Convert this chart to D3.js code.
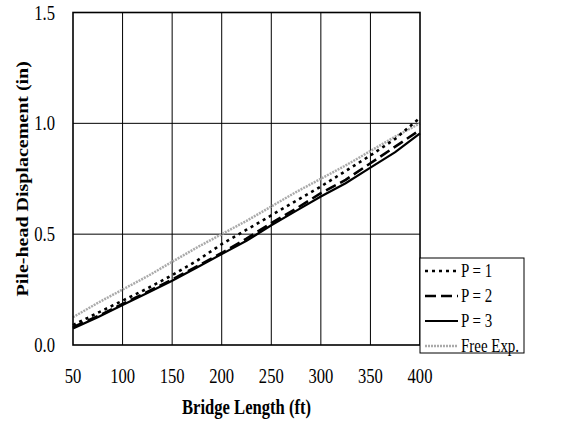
<!DOCTYPE html>
<html>
<head>
<meta charset="utf-8">
<script src="https://cdn.jsdelivr.net/npm/d3@7"></script>
<style>
  body { margin: 0; background: #fff; }
  svg { display: block; }
</style>
</head>
<body>
<script>
// bridge length (ft)
const lengths = [50, 75, 100, 125, 150, 175, 200, 225, 250, 275, 300, 325, 350, 375, 400];
// pile-head displacement (in)
const p1 = [0.09, 0.145, 0.2, 0.255, 0.315, 0.38, 0.455, 0.52, 0.585, 0.65, 0.715, 0.785, 0.855, 0.93, 1.025];
const p2 = [0.08, 0.13, 0.185, 0.24, 0.295, 0.355, 0.415, 0.48, 0.55, 0.615, 0.685, 0.745, 0.82, 0.895, 0.97];
const p3 = [0.075, 0.125, 0.18, 0.235, 0.29, 0.35, 0.41, 0.47, 0.54, 0.605, 0.67, 0.73, 0.8, 0.87, 0.955];
const freeExp = [0.125, 0.19, 0.25, 0.31, 0.375, 0.44, 0.5, 0.56, 0.625, 0.69, 0.75, 0.81, 0.875, 0.94, 1.0];
const seriesNames = ["P = 1", "P = 2", "P = 3", "Free Exp."];
const xTicks = [50, 100, 150, 200, 250, 300, 350, 400];
const yTicks = [0.0, 0.5, 1.0, 1.5];

const W = 570, H = 423;
const m = { left: 73, right: 420, top: 12.5, bottom: 345 };
const sx = 0.83; // text is squeezed sideways in the original

const svg = d3.select("body").append("svg").attr("width", W).attr("height", H);
const x = d3.scaleLinear().domain([50, 400]).range([m.left, m.right]);
const y = d3.scaleLinear().domain([0, 1.5]).range([m.bottom, m.top]);

// grid
svg.append("g").selectAll("line").data(xTicks.slice(1, -1)).join("line")
  .attr("x1", d => x(d)).attr("x2", d => x(d))
  .attr("y1", m.top).attr("y2", m.bottom)
  .attr("stroke", "#000").attr("stroke-width", 1);
svg.append("g").selectAll("line").data(yTicks.slice(1, -1)).join("line")
  .attr("x1", m.left).attr("x2", m.right)
  .attr("y1", d => y(d)).attr("y2", d => y(d))
  .attr("stroke", "#000").attr("stroke-width", 1);

// series
const styles = [
  { data: p1, color: "#000", width: 2.6, dash: "3,4" },
  { data: p2, color: "#000", width: 2.6, dash: "11,5" },
  { data: p3, color: "#000", width: 2.2, dash: null },
  { data: freeExp, color: "#aaa", width: 2.5, dash: "2,1" }
];
const line = d3.line().x((d, i) => x(lengths[i])).y(d => y(d));
// free expansion drawn first, underneath
[3, 2, 1, 0].forEach(k => {
  const s = styles[k];
  svg.append("path").datum(s.data)
    .attr("d", line)
    .attr("fill", "none")
    .attr("stroke", s.color)
    .attr("stroke-width", s.width)
    .attr("stroke-dasharray", s.dash);
});

// plot frame
svg.append("rect")
  .attr("x", m.left).attr("y", m.top)
  .attr("width", m.right - m.left).attr("height", m.bottom - m.top)
  .attr("fill", "none").attr("stroke", "#000").attr("stroke-width", 1.6);

const font = "'Liberation Serif', 'Times New Roman', serif";

// tick labels
svg.append("g").selectAll("text").data(xTicks).join("text")
  .attr("transform", d => `translate(${x(d)},383) scale(${sx},1)`)
  .attr("text-anchor", "middle")
  .attr("font-family", font).attr("font-size", 20)
  .text(d => d);
svg.append("g").selectAll("text").data(yTicks).join("text")
  .attr("transform", d => `translate(55,${y(d) + 7}) scale(${sx},1)`)
  .attr("text-anchor", "end")
  .attr("font-family", font).attr("font-size", 20)
  .text(d => d.toFixed(1));

// axis titles
svg.append("text")
  .attr("transform", `translate(${(m.left + m.right) / 2},414) scale(${sx},1)`)
  .attr("text-anchor", "middle")
  .attr("font-family", font).attr("font-size", 20).attr("font-weight", "bold")
  .text("Bridge Length (ft)");
svg.append("text")
  .attr("transform", `translate(28,${(m.top + m.bottom) / 2}) scale(${sx},1) rotate(-90)`)
  .attr("text-anchor", "middle")
  .attr("font-family", font).attr("font-size", 20).attr("font-weight", "bold")
  .text("Pile-head Displacement (in)");

// legend
const lg = svg.append("g");
lg.append("rect")
  .attr("x", m.right).attr("y", 258)
  .attr("width", 104).attr("height", 95)
  .attr("fill", "#fff").attr("stroke", "#000").attr("stroke-width", 1);
const items = lg.selectAll("g.item").data(seriesNames).join("g")
  .attr("transform", (d, i) => `translate(0,${271 + i * 25})`);
items.append("line")
  .attr("x1", 425).attr("x2", 458).attr("y1", 0).attr("y2", 0)
  .attr("stroke", (d, i) => styles[i].color)
  .attr("stroke-width", (d, i) => styles[i].width)
  .attr("stroke-dasharray", (d, i) => styles[i].dash);
items.append("text")
  .attr("transform", `translate(461,6) scale(${sx},1)`)
  .attr("font-family", font).attr("font-size", 18)
  .text(d => d);
</script>
</body>
</html>
